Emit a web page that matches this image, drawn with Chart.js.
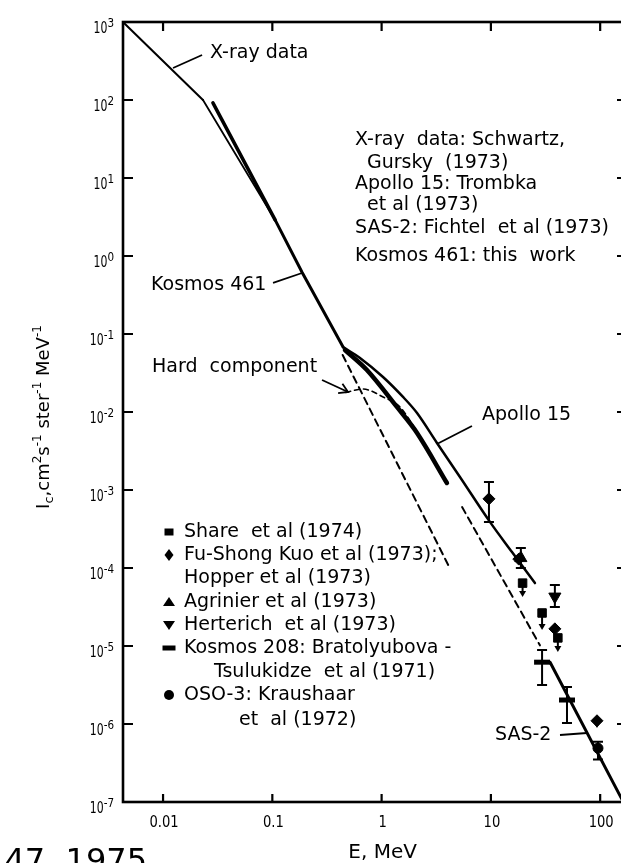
<!DOCTYPE html>
<html>
<head>
<meta charset="utf-8">
<script src="https://cdn.jsdelivr.net/npm/chart.js@4.4.1/dist/chart.umd.min.js"></script>
<style>
html,body{margin:0;padding:0;background:#fff;overflow:hidden;}
#wrap{width:621px;height:863px;overflow:hidden;position:relative;background:#fff;}
canvas{display:block;}
</style>
</head>
<body>
<div id="wrap"><canvas id="chart" width="640" height="863"></canvas></div>
<script>
// ---------------- Data ----------------
const xRange = [0.0043, 176];
const yRange = [1e-7, 1e3];
const xTickValues = [0.01, 0.1, 1, 10, 100];
const xTickLabels = ['0.01', '0.1', '1', '10', '100'];
const yTickValues = [1e-7, 1e-6, 1e-5, 1e-4, 1e-3, 1e-2, 1e-1, 1e0, 1e1, 1e2, 1e3];
const yTickExponents = ['-7', '-6', '-5', '-4', '-3', '-2', '-1', '0', '1', '2', '3'];

// X-ray data (Schwartz, Gursky 1973)
const xrayE = [0.0043, 0.0232];
const xrayI = [1000, 100];
// Kosmos 461 thin part
const kosmosLowE = [0.0232, 0.106];
const kosmosLowI = [100, 2.9];
// short heavy segment 0.03-0.1 MeV
const heavyE = [0.0286, 0.106];
const heavyI = [92, 2.9];
// Kosmos 461 main line 0.1-0.45 MeV
const kosmosMidE = [0.106, 0.187, 0.444];
const kosmosMidI = [2.9, 0.62, 0.068];
// Kosmos 461 heavy line 0.5-4 MeV
const kosmosHighE = [0.462, 0.734, 1.38, 2.11, 3.96];
const kosmosHighI = [0.0624, 0.0345, 0.0116, 0.00538, 0.00123];
// Apollo 15
const apolloE = [0.444, 0.634, 1.03, 1.57, 2.11, 3.21, 5.21, 9.8, 15.6, 25.3];
const apolloI = [0.068, 0.0492, 0.0281, 0.0156, 0.0097, 0.00401, 0.00147, 3.9e-4, 1.6e-4, 6.4e-5];
// Hard component (dashed)
const hardE = [0.47, 0.676, 1.03, 1.47, 2.24, 3.8];
const hardI = [0.0178, 0.0197, 0.0156, 0.0116, 0.0048, 0.00127];
// dashed extrapolations
const dashAE = [0.44, 4.2];
const dashAI = [0.0538, 1.0e-4];
const dashBE = [5.45, 28.1];
const dashBI = [6.05e-4, 1.02e-5];
// SAS-2 (Fichtel et al 1973)
const sasE = [34.8, 160];
const sasI = [6.2e-6, 1.05e-7];

// Measured points
const shareE = [19.5, 29.4, 41];
const shareI = [6.4e-5, 2.65e-5, 1.27e-5];
const shareLimit = [4.25e-5, 1.6e-5, 8.4e-6];

const kuoE = [9.6, 18.0, 38.5, 93.5];
const kuoI = [7.7e-4, 1.3e-4, 1.66e-5, 1.1e-6];
const kuoLow = [3.9e-4, null, null, null];
const kuoHigh = [1.27e-3, null, null, null];
const kuoLimit = [null, null, null, 8.9e-7];

const agrE = [18.8];
const agrI = [1.34e-4];
const agrLow = [1.0e-4];
const agrHigh = [1.8e-4];

const herE = [38.5];
const herI = [4.3e-5];
const herLow = [3.16e-5];
const herHigh = [6.05e-5];

const k208E = [29.4, 49.7];
const k208I = [6.2e-6, 2.03e-6];
const k208Low = [3.16e-6, 1.03e-6];
const k208High = [8.9e-6, 2.98e-6];

const osoE = [95.5];
const osoI = [4.9e-7];
const osoLow = [3.5e-7];
const osoHigh = [5.9e-7];

// ---------------- Chart building ----------------
const FONT = '"DejaVu Sans", "Liberation Sans", sans-serif';
const pts = (E, I) => E.map((e, i) => ({x: e, y: I[i]}));

function lineDs(label, E, I, w, dash, tension, mode) {
  return {
    label, data: pts(E, I), showLine: true, borderColor: '#000', backgroundColor: '#000',
    borderWidth: w, borderDash: dash || [], pointRadius: 0, pointHoverRadius: 0,
    tension: tension || 0, cubicInterpolationMode: mode || 'default',
    fill: false, order: 2, borderCapStyle: 'round'
  };
}
function ptDs(label, E, I, style, r, extra) {
  return Object.assign({
    label, data: pts(E, I), showLine: false, pointStyle: style, pointRadius: r, pointHoverRadius: r,
    backgroundColor: '#000', borderColor: '#000', pointBorderWidth: 1, order: 1
  }, extra || {});
}

const datasets = [
  lineDs('X-ray data', xrayE, xrayI, 2),
  lineDs('Kosmos 461 low', kosmosLowE, kosmosLowI, 1.8),
  lineDs('Kosmos 461 heavy low', heavyE, heavyI, 3.5),
  lineDs('Kosmos 461', kosmosMidE, kosmosMidI, 3),
  lineDs('Kosmos 461 high', kosmosHighE, kosmosHighI, 4.5, null, 0.35),
  lineDs('Apollo 15', apolloE, apolloI, 2.5, null, 0.35),
  lineDs('Hard component', hardE, hardI, 1.6, [5, 4], 0.4, 'monotone'),
  lineDs('Extrapolation A', dashAE, dashAI, 2, [7, 5]),
  lineDs('Extrapolation B', dashBE, dashBI, 2, [7, 5]),
  lineDs('SAS-2', sasE, sasI, 3),
  ptDs('Share et al (1974)', shareE, shareI, 'rect', 6, {limitTo: shareLimit}),
  ptDs('Fu-Shong Kuo et al (1973); Hopper et al (1973)', kuoE, kuoI, 'rectRot', 6, {errLow: kuoLow, errHigh: kuoHigh, limitTo: kuoLimit}),
  ptDs('Agrinier et al (1973)', agrE, agrI, 'triangle', 7, {errLow: agrLow, errHigh: agrHigh}),
  ptDs('Herterich et al (1973)', herE, herI, 'triangle', 7, {pointRotation: 180, errLow: herLow, errHigh: herHigh}),
  ptDs('Kosmos 208', k208E, k208I, 'line', 8, {pointBorderWidth: 5, errLow: k208Low, errHigh: k208High}),
  ptDs('OSO-3', osoE, osoI, 'circle', 5, {errLow: osoLow, errHigh: osoHigh})
];

const errPlugin = {
  id: 'errbars',
  afterDatasetsDraw(chart) {
    const {ctx, scales: {x: xs, y: ys}} = chart;
    ctx.save();
    ctx.strokeStyle = '#000'; ctx.fillStyle = '#000'; ctx.lineWidth = 2;
    chart.data.datasets.forEach(ds => {
      ds.data.forEach((p, i) => {
        const px = xs.getPixelForValue(p.x);
        const lo = ds.errLow ? ds.errLow[i] : null;
        const hi = ds.errHigh ? ds.errHigh[i] : null;
        if (lo != null && hi != null) {
          const y1 = ys.getPixelForValue(hi), y2 = ys.getPixelForValue(lo);
          ctx.beginPath();
          ctx.moveTo(px, y1); ctx.lineTo(px, y2);
          ctx.moveTo(px - 5, y1); ctx.lineTo(px + 5, y1);
          ctx.moveTo(px - 5, y2); ctx.lineTo(px + 5, y2);
          ctx.stroke();
        }
        const lim = ds.limitTo ? ds.limitTo[i] : null;
        if (lim != null) {
          const y0 = ys.getPixelForValue(p.y), y1 = ys.getPixelForValue(lim);
          ctx.beginPath(); ctx.moveTo(px, y0); ctx.lineTo(px, y1 - 4); ctx.stroke();
          ctx.beginPath(); ctx.moveTo(px - 3.5, y1 - 6); ctx.lineTo(px + 3.5, y1 - 6); ctx.lineTo(px, y1); ctx.closePath(); ctx.fill();
        }
      });
    });
    ctx.restore();
  }
};

// annotation labels (data coordinates of text and pointer lines)
const annotations = [
  {text: 'X-ray data', at: [0.0269, 394], from: [0.02275, 377], to: [0.01234, 257]},
  {text: 'Kosmos 461', at: [0.00777, 0.425], from: [0.1015, 0.451], to: [0.187, 0.605]},
  {text: 'Hard  component', at: [0.00793, 0.0372], from: [0.285, 0.0257], to: [0.493, 0.01805], arrow: true},
  {text: 'Apollo 15', at: [8.29, 0.00902], from: [6.71, 0.00662], to: [3.21, 0.00389]},
  {text: 'SAS-2', at: [10.9, 7.23e-7], from: [42.9, 7.23e-7], to: [75.7, 7.67e-7]}
];
const notes = [
  ['X-ray  data: Schwartz,', 0, 140],
  ['Gursky  (1973)', 12, 163],
  ['Apollo 15: Trombka', 0, 184],
  ['et al (1973)', 12, 205],
  ['SAS-2: Fichtel  et al (1973)', 0, 228],
  ['Kosmos 461: this  work', 0, 256]
];
const legendRows = [
  ['square', 'Share  et al (1974)', 532],
  ['diamond', 'Fu-Shong Kuo et al (1973);', 555],
  [null, 'Hopper et al (1973)', 578],
  ['tri', 'Agrinier et al (1973)', 602],
  ['tridown', 'Herterich  et al (1973)', 625],
  ['bar', 'Kosmos 208: Bratolyubova -', 648],
  [null, 'Tsulukidze  et al (1971)', 672, 30],
  ['circle', 'OSO-3: Kraushaar', 695],
  [null, 'et  al (1972)', 720, 55]
];

function marker(ctx, kind, x, y) {
  ctx.beginPath();
  if (kind === 'square') ctx.rect(x - 4.5, y - 3.5, 9, 7);
  else if (kind === 'diamond') { ctx.moveTo(x, y - 6); ctx.lineTo(x + 4.5, y); ctx.lineTo(x, y + 6); ctx.lineTo(x - 4.5, y); ctx.closePath(); }
  else if (kind === 'tri') { ctx.moveTo(x, y - 5); ctx.lineTo(x + 6, y + 4); ctx.lineTo(x - 6, y + 4); ctx.closePath(); }
  else if (kind === 'tridown') { ctx.moveTo(x, y + 5); ctx.lineTo(x + 6, y - 4); ctx.lineTo(x - 6, y - 4); ctx.closePath(); }
  else if (kind === 'bar') ctx.rect(x - 6.5, y - 2.5, 13, 5);
  else if (kind === 'circle') ctx.arc(x, y, 5, 0, Math.PI * 2);
  ctx.fill();
}

function scaledText(ctx, txt, x, y, sx, align) {
  ctx.save(); ctx.translate(x, y); ctx.scale(sx, 1); ctx.textAlign = align; ctx.fillText(txt, 0, 0); ctx.restore();
}

const decorPlugin = {
  id: 'decor',
  afterDraw(chart) {
    const {ctx, chartArea: a, scales: {x: xs, y: ys}} = chart;
    ctx.save();
    ctx.strokeStyle = '#000'; ctx.fillStyle = '#000';
    // frame
    ctx.lineWidth = 2.6;
    ctx.strokeRect(a.left, a.top, a.right - a.left, a.bottom - a.top);
    // inward ticks
    ctx.lineWidth = 2.2;
    ctx.beginPath();
    xs.ticks.forEach(t => {
      const px = xs.getPixelForValue(t.value);
      ctx.moveTo(px, a.bottom); ctx.lineTo(px, a.bottom - 8);
      ctx.moveTo(px, a.top); ctx.lineTo(px, a.top + 9);
    });
    ys.ticks.forEach(t => {
      const py = ys.getPixelForValue(t.value);
      ctx.moveTo(a.left, py); ctx.lineTo(a.left + 10, py);
      ctx.moveTo(a.right, py); ctx.lineTo(a.right - 10, py);
    });
    ctx.stroke();

    // x tick labels
    ctx.textBaseline = 'alphabetic';
    ctx.font = '16px ' + FONT;
    xs.ticks.forEach((t, i) => {
      const px = xs.getPixelForValue(t.value);
      scaledText(ctx, xTickLabels[i], px + 1, a.bottom + 25, 0.82, 'center');
    });
    // y tick labels: 10 with exponent
    ys.ticks.forEach((t, i) => {
      const py = ys.getPixelForValue(t.value);
      const right = a.left - 9;
      ctx.font = '13px ' + FONT;
      const ew = ctx.measureText(yTickExponents[i]).width * 0.8;
      scaledText(ctx, yTickExponents[i], right - ew, py + 5, 0.8, 'left');
      ctx.font = '16px ' + FONT;
      scaledText(ctx, '10', right - ew, py + 11, 0.68, 'right');
    });

    // axis titles
    ctx.font = '20px ' + FONT;
    ctx.textAlign = 'center';
    ctx.fillText('E, MeV', xs.getPixelForValue(1) + 1, 858);
    drawYTitle(ctx, 42, 417);

    // annotation labels with pointers
    ctx.font = '19px ' + FONT;
    ctx.textAlign = 'left'; ctx.textBaseline = 'middle';
    ctx.lineWidth = 1.8;
    annotations.forEach(an => {
      ctx.fillText(an.text, xs.getPixelForValue(an.at[0]), ys.getPixelForValue(an.at[1]));
      const x1 = xs.getPixelForValue(an.from[0]), y1 = ys.getPixelForValue(an.from[1]);
      const x2 = xs.getPixelForValue(an.to[0]), y2 = ys.getPixelForValue(an.to[1]);
      ctx.beginPath(); ctx.moveTo(x1, y1); ctx.lineTo(x2, y2); ctx.stroke();
      if (an.arrow) {
        const ang = Math.atan2(y2 - y1, x2 - x1);
        ctx.beginPath();
        ctx.moveTo(x2 + 10 * Math.cos(ang + 2.6), y2 + 10 * Math.sin(ang + 2.6));
        ctx.lineTo(x2, y2);
        ctx.lineTo(x2 + 10 * Math.cos(ang - 2.6), y2 + 10 * Math.sin(ang - 2.6));
        ctx.stroke();
      }
    });

    // reference notes (top right)
    notes.forEach(n => ctx.fillText(n[0], a.left + 232 + n[1], n[2]));

    // symbol legend (bottom left)
    legendRows.forEach(r => {
      if (r[0]) marker(ctx, r[0], a.left + 46, r[2]);
      ctx.fillText(r[1], a.left + 61 + (r[3] || 0), r[2]);
    });

    // page caption fragment
    ctx.font = '32px ' + FONT;
    ctx.textAlign = 'right'; ctx.textBaseline = 'alphabetic';
    ctx.fillText('47, 1975', 147, 871);
    ctx.restore();
  }
};

function drawYTitle(ctx, cx, cy) {
  const runs = [['I', 18, 0], ['c', 13, 4], [',', 18, 0], ['cm', 18, 0], ['2', 12, -8], ['s', 18, 0], ['-1', 12, -8],
    [' ster', 18, 0], ['-1', 12, -8], [' MeV', 18, 0], ['-1', 12, -8]];
  let total = 0;
  runs.forEach(r => { ctx.font = r[1] + 'px ' + FONT; r.w = ctx.measureText(r[0]).width; total += r.w; });
  ctx.save();
  ctx.translate(cx, cy); ctx.rotate(-Math.PI / 2);
  ctx.textAlign = 'left'; ctx.textBaseline = 'alphabetic';
  let u = -total / 2;
  runs.forEach(r => { ctx.font = r[1] + 'px ' + FONT; ctx.fillText(r[0], u, 7 + r[2]); u += r.w; });
  ctx.restore();
}

new Chart(document.getElementById('chart'), {
  type: 'scatter',
  data: {datasets},
  options: {
    responsive: false, animation: false, devicePixelRatio: 1, events: [],
    layout: {padding: {left: 0, right: 13, top: 22, bottom: 0}},
    plugins: {legend: {display: false}, tooltip: {enabled: false}},
    scales: {
      x: {
        type: 'logarithmic', min: xRange[0], max: xRange[1],
        grid: {display: false}, border: {display: false}, ticks: {display: false},
        afterBuildTicks: s => { s.ticks = xTickValues.map(v => ({value: v})); },
        afterFit: s => { s.height = 61; }
      },
      y: {
        type: 'logarithmic', min: yRange[0], max: yRange[1],
        grid: {display: false}, border: {display: false}, ticks: {display: false},
        afterBuildTicks: s => { s.ticks = yTickValues.map(v => ({value: v})); },
        afterFit: s => { s.width = 123; }
      }
    }
  },
  plugins: [errPlugin, decorPlugin]
});
</script>
</body>
</html>
